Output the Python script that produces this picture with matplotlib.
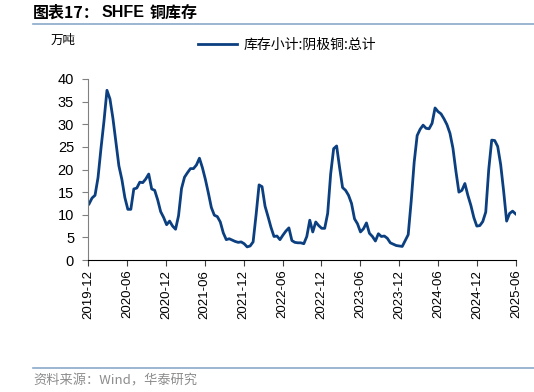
import matplotlib
matplotlib.use("Agg")
import matplotlib.pyplot as plt
import pandas as pd

plt.rcParams['font.family'] = ['Liberation Sans', 'Noto Sans CJK SC', 'DejaVu Sans']

# SHFE 铜库存 (万吨), 双周取值, 2019-12 ~ 2025-06
stock = [
    12.4, 13.7, 14.3, 18.2, 24.7, 30.7, 37.5, 35.6, 31.3, 26.0,
    20.8, 17.8, 13.8, 11.2, 11.2, 15.7, 15.9, 17.2, 17.1, 17.9,
    19.0, 15.7, 15.4, 13.3, 10.7, 9.4, 7.8, 8.6, 7.5, 6.8,
    9.8, 15.8, 18.3, 19.3, 20.2, 20.2, 21.0, 22.5, 20.4, 17.8,
    14.8, 11.6, 9.9, 9.6, 8.4, 6.0, 4.5, 4.7, 4.4, 4.1,
    3.9, 4.0, 3.6, 2.9, 3.1, 4.0, 10.0, 16.6, 16.2, 11.9,
    9.6, 7.2, 5.2, 5.3, 4.5, 5.5, 6.4, 7.1, 4.3, 3.9,
    3.8, 3.8, 3.6, 5.2, 8.8, 6.2, 8.4, 7.6, 7.0, 7.0,
    10.3, 19.0, 24.6, 25.2, 20.4, 16.0, 15.4, 14.3, 12.5, 9.1,
    8.0, 6.2, 6.9, 8.2, 5.9, 5.2, 4.2, 5.8, 5.2, 5.3,
    4.8, 3.8, 3.5, 3.2, 3.1, 3.0, 4.3, 5.6, 13.0, 21.6,
    27.5, 28.9, 29.8, 29.1, 29.0, 30.2, 33.6, 32.8, 32.3, 31.2,
    29.9, 28.0, 24.7, 19.6, 15.0, 15.4, 16.9, 14.3, 12.1, 9.4,
    7.5, 7.6, 8.5, 10.6, 20.0, 26.5, 26.4, 25.1, 21.1, 15.2,
    8.6, 10.3, 10.8, 10.2,
]
dates = pd.date_range('2019-12-06', periods=len(stock), freq='14D')

tick_labels = ['2019-12', '2020-06', '2020-12', '2021-06', '2021-12', '2022-06',
               '2022-12', '2023-06', '2023-12', '2024-06', '2024-12', '2025-06']
tick_dates = pd.to_datetime([t + '-01' for t in tick_labels])

series_name = '库存小计:阴极铜:总计'
color = '#0b3f80'

fig = plt.figure(figsize=(5.34, 3.92), dpi=100)
ax = fig.add_axes([0.1648, 0.3367, 0.8015, 0.4618])

ax.plot(dates, stock, color=color, lw=2.0, label=series_name)

ax.set_xlim(tick_dates[0], tick_dates[-1])
ax.set_ylim(0, 40)
ax.set_yticks(range(0, 41, 5))
ax.set_xticks(tick_dates)
ax.set_xticklabels(tick_labels, rotation=90, fontsize=9.5)
ax.tick_params(axis='y', labelsize=10.5, length=4, color='#808080', pad=6)
ax.tick_params(axis='x', length=4, color='#404040', pad=3)

for s in ['top', 'right']:
    ax.spines[s].set_visible(False)
ax.spines['left'].set_color('#808080')
ax.spines['bottom'].set_color('black')

ax.legend(loc='lower center', bbox_to_anchor=(0.465, 1.08), frameon=False,
          handlelength=2.8, handletextpad=0.5,
          prop={'family': ['Noto Sans CJK SC'], 'size': 10})

fig.text(0.094, 0.887, '万吨', fontsize=9, family=['Noto Sans CJK SC'])

fig.text(0.062, 0.968, '图表17：', fontsize=11.5, fontweight='bold',
         family=['Noto Sans CJK SC'], va='center')
fig.text(0.191, 0.968, 'SHFE', fontsize=11.5, fontweight='bold',
         family=['Liberation Sans'], va='center')
fig.text(0.281, 0.968, '铜库存', fontsize=11.5, fontweight='bold',
         family=['Noto Sans CJK SC'], va='center')

fig.add_artist(plt.Line2D([0.062, 1.0], [0.940, 0.940], color='#8aa8c8', lw=1.2))
fig.add_artist(plt.Line2D([0.062, 1.0], [0.062, 0.062], color='#8aa8c8', lw=1.2))

fig.text(0.062, 0.028, '资料来源：Wind，华泰研究', fontsize=9.5, color='#8c8c8c',
         family=['Noto Sans CJK SC', 'Liberation Sans'], va='center')

fig.savefig('out.png', dpi=100)
